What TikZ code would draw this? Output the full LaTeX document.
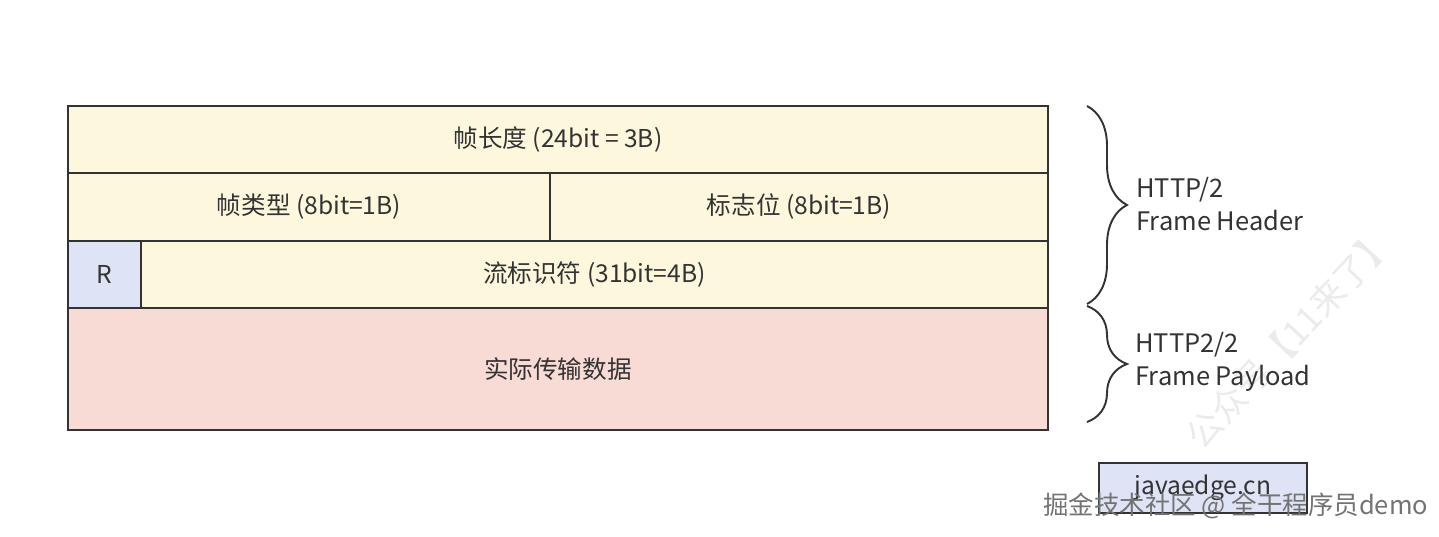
\documentclass[tikz,border=0pt]{standalone}
\usepackage{fontspec}
\setmainfont{Noto Sans CJK SC}
\usetikzlibrary{decorations.pathreplacing}
\definecolor{hdrfill}{RGB}{253,248,221}
\definecolor{datafill}{RGB}{249,219,214}
\definecolor{rfill}{RGB}{222,228,245}
\definecolor{linec}{RGB}{51,51,51}
\begin{document}
\begin{tikzpicture}[x=0.02cm, y=-0.02cm,
    field/.style={draw=linec, line width=1.1pt, fill=hdrfill, anchor=north west, inner sep=0pt, outer sep=0pt,
      minimum height=1.347cm, text=linec, font=\fontsize{14}{17}\selectfont},
    framebrace/.style={draw=linec, line width=1.1pt, decorate, decoration={brace, amplitude=0.8cm}},
    bracelabel/.style={anchor=west, align=left, inner sep=0pt, text=linec, font=\fontsize{14.5}{18.7}\selectfont}]
    \useasboundingbox (0,0) rectangle (1439,537);
    % Draw the watermark behind the frame.
    \node[rotate=47, text=black!8, font=\fontsize{20}{24}\selectfont] (wechat) at (1290,338) {公众号【11来了】};
    % Draw the header fields.
    \node[field, minimum width=19.6cm] (length) at (68,106) {帧长度 (24bit = 3B)};
    \node[field, minimum width=9.64cm] (type) at (68,173.3) {帧类型 (8bit=1B)};
    \node[field, minimum width=9.96cm] (flags) at (550,173.3) {标志位 (8bit=1B)};
    \node[field, fill=rfill, minimum width=1.46cm] (reserved) at (68,240.7) {R};
    \node[field, minimum width=18.14cm] (stream) at (141,240.7) {流标识符 (31bit=4B)};
    % Draw the payload.
    \node[field, fill=datafill, minimum width=19.6cm, minimum height=2.44cm] (payload) at (68,308) {实际传输数据};
    % Draw the braces and their labels.
    \coordinate (hdrtop) at (1087,106);
    \coordinate (hdrbot) at (1087,304);
    \coordinate (datatop) at (1087,306);
    \coordinate (databot) at (1087,422);
    \draw[framebrace] (hdrtop) -- (hdrbot);
    \draw[framebrace] (datatop) -- (databot);
    \node[bracelabel] (hdrlabel) at (1136,204) {HTTP/2\\Frame Header};
    \node[bracelabel] (datalabel) at (1135,362) {HTTP2/2\\Frame Payload};
    % Draw the site box and the platform mark.
    \node[field, fill=rfill, minimum width=4.16cm, minimum height=1cm, font=\fontsize{14}{17}\selectfont] (site) at (1099,463) {javaedge.cn};
    \node[anchor=west, inner sep=0pt, text=black!55, font=\fontsize{14.5}{18}\selectfont] (juejin) at (1043,506) {掘金技术社区 @ 全干程序员demo};
\end{tikzpicture}
\end{document}
